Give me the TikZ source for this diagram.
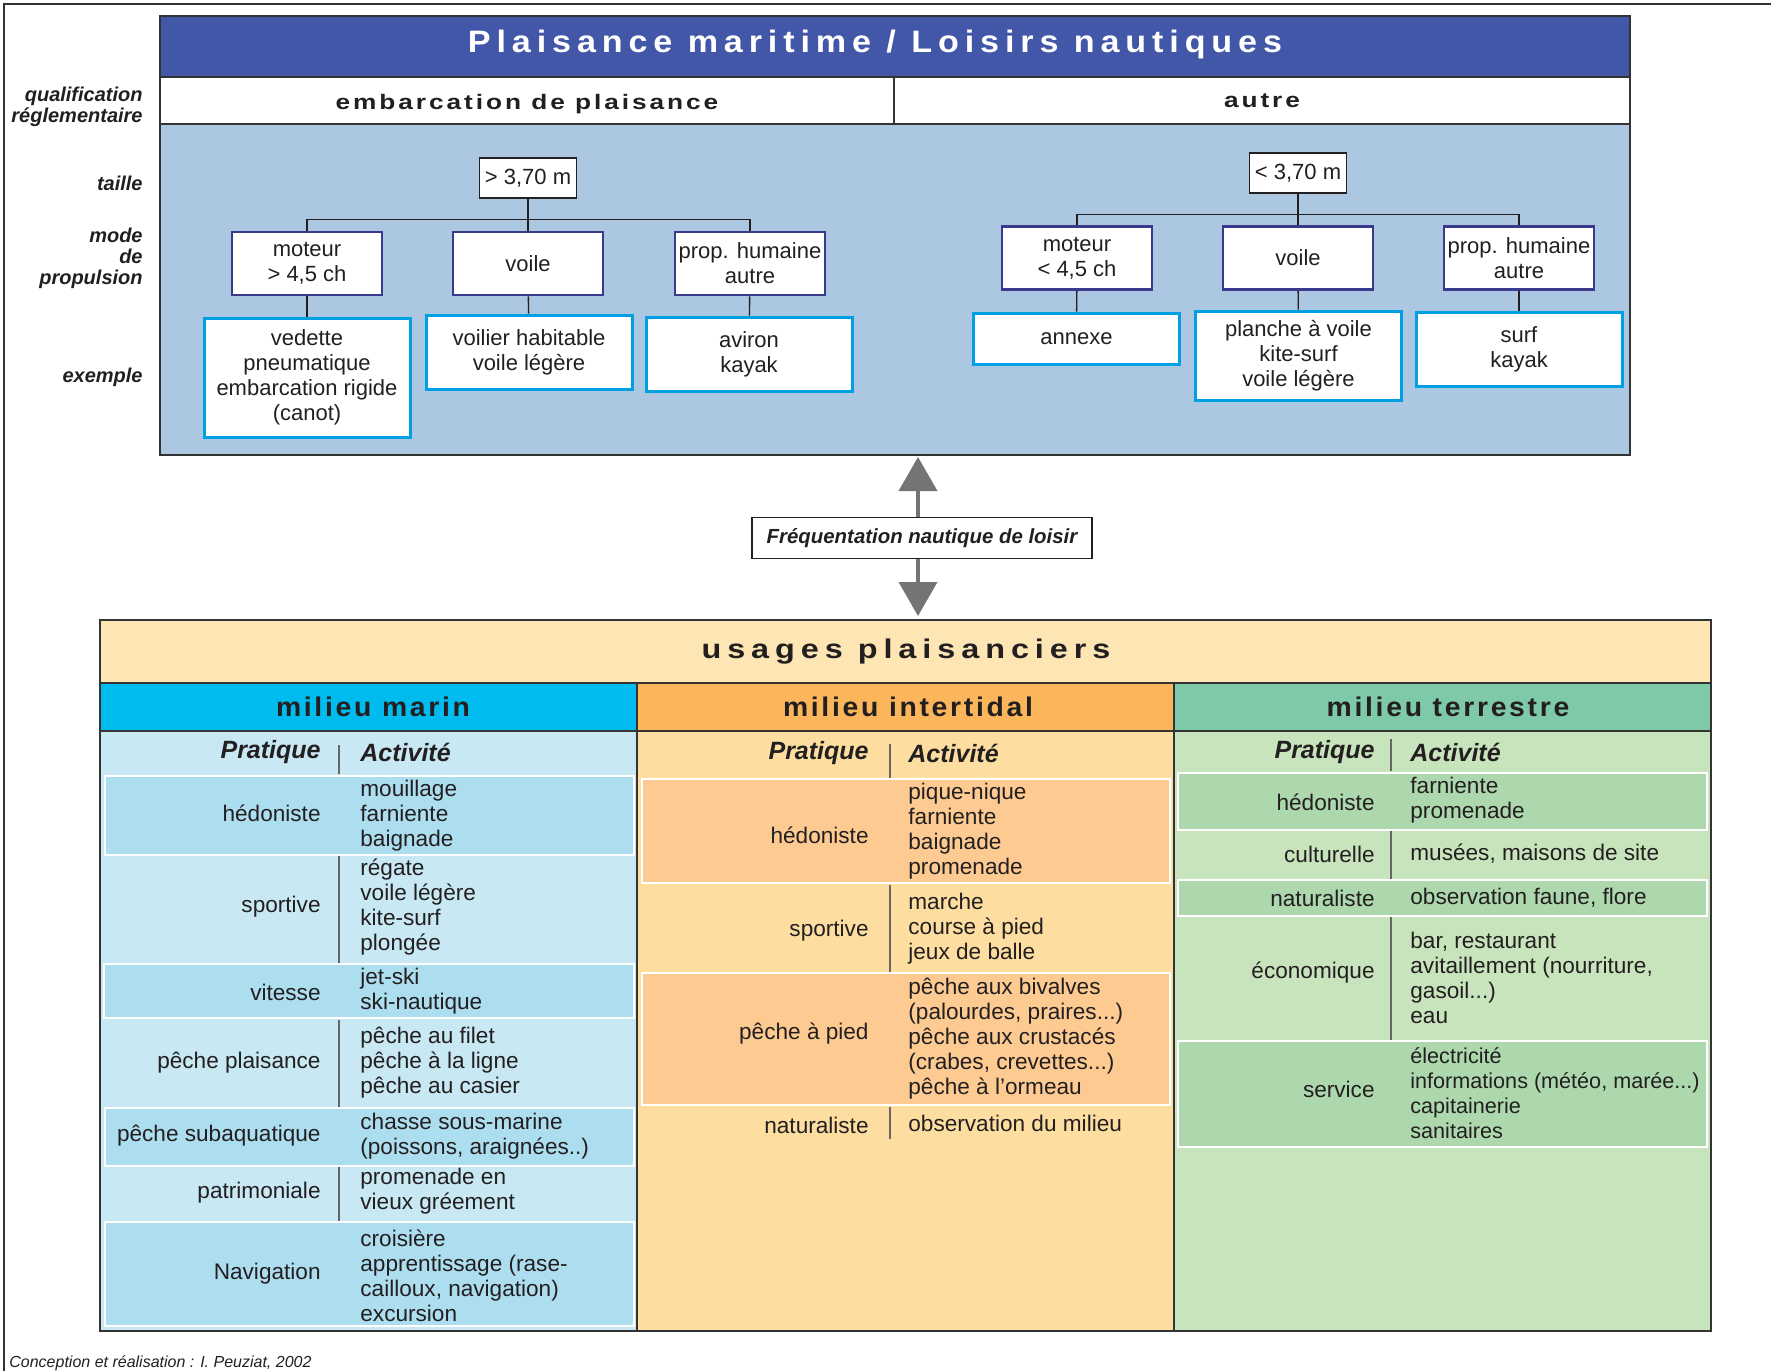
\documentclass[tikz,border=0pt]{standalone}
\usepackage{fontspec}
\setmainfont{Liberation Sans}
\usetikzlibrary{arrows.meta}
\definecolor{titleblue}{RGB}{66,87,167}
\definecolor{zoneblue}{RGB}{172,199,225}
\definecolor{modeblue}{RGB}{58,58,140}
\definecolor{excyan}{RGB}{0,160,227}
\definecolor{arrowgray}{RGB}{115,116,118}
\definecolor{usagesfill}{RGB}{254,230,180}
\definecolor{marinhead}{RGB}{0,187,238}
\definecolor{marinbody}{RGB}{200,232,243}
\definecolor{marinhl}{RGB}{173,222,239}
\definecolor{interhead}{RGB}{251,182,92}
\definecolor{interbody}{RGB}{253,222,160}
\definecolor{interhl}{RGB}{253,203,145}
\definecolor{terrehead}{RGB}{126,201,168}
\definecolor{terrebody}{RGB}{200,228,189}
\definecolor{terrehl}{RGB}{173,216,173}
\definecolor{inkgray}{RGB}{35,31,32}

\begin{document}
\begin{tikzpicture}[x=0.5pt, y=-0.5pt, text=inkgray,
    body/.style={font=\fontsize{11}{12.5}\selectfont, inner sep=0pt},
    cell/.style={font=\fontsize{11.3}{12.5}\selectfont, inner sep=0pt},
    pratique/.style={cell, anchor=east, align=right},
    activite/.style={cell, anchor=west, align=left},
    tabhead/.style={inner sep=0pt, font=\bfseries\itshape\fontsize{12.5}{14}\selectfont},
    colhead/.style={inner sep=0pt, font=\bfseries\fontsize{13.5}{15}\selectfont\addfontfeature{FakeStretch=1.05,LetterSpace=10}},
    rowhead/.style={inner sep=0pt, font=\bfseries\fontsize{10.5}{13}\selectfont\addfontfeature{FakeStretch=1.25,LetterSpace=14}},
    sidelabel/.style={anchor=east, align=right, inner sep=0pt, font=\bfseries\itshape\fontsize{10}{10.5}\selectfont},
    sizebox/.style={draw=inkgray, fill=white, line width=0.7pt, body, minimum width=48.5pt, minimum height=20pt},
    modebox/.style={draw=modeblue, fill=white, line width=1.4pt, body, inner sep=1pt, align=center, minimum width=75pt, minimum height=31.5pt},
    exbox/.style={draw=excyan, fill=white, line width=1.5pt, body, inner sep=1pt, align=center, minimum width=103pt},
    treeline/.style={draw=inkgray, line width=0.7pt},
    rowhl/.style={draw=white, line width=1pt},
    divider/.style={draw=black!60, line width=1pt},
    frame/.style={draw=black!80, line width=0.8pt},
    grayarrow/.style={draw=arrowgray, line width=2pt, -{Triangle[width=19pt,length=17pt]}},
  ]
  \useasboundingbox (0,0) rectangle (1771,1371);

  % outer frame
  \draw[frame] (4,1371) -- (4,4) -- (1771,4);

  % upper block
  \fill[titleblue] (160,16) rectangle (1630,77);
  \fill[white] (160,77) rectangle (1630,124);
  \fill[zoneblue] (160,124) rectangle (1630,455);
  \draw[frame] (160,16) rectangle (1630,455);
  \draw[frame] (160,77) -- (1630,77);
  \draw[frame] (160,124) -- (1630,124);
  \draw[frame] (894,77) -- (894,124);
  \coordinate (zonese) at (1630,455);

  \node[inner sep=0pt, text=white, font=\bfseries\fontsize{15.5}{18}\selectfont\addfontfeature{FakeStretch=1.1,LetterSpace=19}] (title) at (875,44) {Plaisance maritime / Loisirs nautiques};
  \node[rowhead] (embarc) at (527,104) {embarcation de plaisance};
  \node[rowhead] (autre) at (1262,101) {autre};

  % side labels
  \node[sidelabel] (lblqual) at (143,107) {qualification\\réglementaire};
  \node[sidelabel] (lbltaille) at (143,183) {taille};
  \node[sidelabel] (lblmode) at (143,258.5) {mode\\de\\propulsion};
  \node[sidelabel] (lblex) at (143,377) {exemple};

  % tree left
  \node[sizebox] (bigsize) at (528,178) {> 3,70 m};
  \node[modebox] (bigmot) at (307,263.5) {moteur\\> 4,5 ch};
  \node[modebox] (bigvoile) at (528,263.5) {voile};
  \node[modebox] (bighum) at (750,263.5) {prop. humaine\\autre};
  \node[exbox, minimum height=59.5pt] (bigexmot) at (307,377.5) {vedette\\pneumatique\\embarcation rigide\\(canot)};
  \node[exbox, minimum height=37pt] (bigexvoile) at (529,352) {voilier habitable\\voile légère};
  \node[exbox, minimum height=37pt] (bigexhum) at (749,354) {aviron\\kayak};
  \draw[treeline] (bigsize.south) -- ++(0,21) -| (bigmot.north);
  \draw[treeline] (bigsize.south) -- ++(0,21) -| (bighum.north);
  \draw[treeline] (bigsize) -- (bigvoile);
  \draw[treeline] (bigmot) -- (bigexmot);
  \draw[treeline] (bigvoile) -- (bigexvoile);
  \draw[treeline] (bighum) -- (bigexhum);

  % tree right
  \node[sizebox] (smallsize) at (1298,173) {< 3,70 m};
  \node[modebox] (smallmot) at (1077,258) {moteur\\< 4,5 ch};
  \node[modebox] (smallvoile) at (1298,258) {voile};
  \node[modebox] (smallhum) at (1519,258) {prop. humaine\\autre};
  \node[exbox, minimum height=25.5pt] (smallexmot) at (1076.5,338.5) {annexe};
  \node[exbox, minimum height=44.5pt] (smallexvoile) at (1298.5,355.5) {planche à voile\\kite-surf\\voile légère};
  \node[exbox, minimum height=37pt] (smallexhum) at (1519,349) {surf\\kayak};
  \draw[treeline] (smallsize.south) -- ++(0,21) -| (smallmot.north);
  \draw[treeline] (smallsize.south) -- ++(0,21) -| (smallhum.north);
  \draw[treeline] (smallsize) -- (smallvoile);
  \draw[treeline] (smallmot) -- (smallexmot);
  \draw[treeline] (smallvoile) -- (smallexvoile);
  \draw[treeline] (smallhum) -- (smallexhum);

  % link between blocks
  \coordinate (usagesnw) at (100,620);
  \node[draw=inkgray, fill=white, line width=0.7pt, minimum width=170pt, minimum height=20.5pt, inner sep=0pt,
        font=\bfseries\itshape\fontsize{10.2}{12}\selectfont] (freq) at (922,538) {Fréquentation nautique de loisir};
  \draw[grayarrow, shorten >=1pt] ([xshift=-2pt]freq.north) -- ([xshift=-2pt]freq.north |- zonese);
  \draw[grayarrow, shorten >=2pt] ([xshift=-2pt]freq.south) -- ([xshift=-2pt]freq.south |- usagesnw);

  % lower block
  \fill[usagesfill] (100,620) rectangle (1711,683);
  \fill[marinhead] (100,683) rectangle (637,731);
  \fill[interhead] (637,683) rectangle (1174,731);
  \fill[terrehead] (1174,683) rectangle (1711,731);
  \fill[marinbody] (100,731) rectangle (637,1331);
  \fill[interbody] (637,731) rectangle (1174,1331);
  \fill[terrebody] (1174,731) rectangle (1711,1331);

  % milieu marin rows
  \filldraw[rowhl, fill=marinhl] (105,776) rectangle (634,855);
  \filldraw[rowhl, fill=marinhl] (104,964) rectangle (634,1018);
  \filldraw[rowhl, fill=marinhl] (105,1108) rectangle (634,1166);
  \filldraw[rowhl, fill=marinhl] (105,1222) rectangle (634,1326);
  \draw[divider] (339,745) -- (339,774);
  \draw[divider] (339,856) -- (339,963);
  \draw[divider] (339,1020) -- (339,1107);
  \draw[divider] (339,1167) -- (339,1221);

  % milieu intertidal rows
  \filldraw[rowhl, fill=interhl] (642,779) rectangle (1170,883);
  \filldraw[rowhl, fill=interhl] (642,973) rectangle (1170,1105);
  \draw[divider] (890,744) -- (890,778);
  \draw[divider] (890,885) -- (890,972);
  \draw[divider] (890,1107) -- (890,1139);

  % milieu terrestre rows
  \filldraw[rowhl, fill=terrehl] (1178,773) rectangle (1707,830);
  \filldraw[rowhl, fill=terrehl] (1178,880) rectangle (1707,916);
  \filldraw[rowhl, fill=terrehl] (1178,1041) rectangle (1707,1147);
  \draw[divider] (1391,739) -- (1391,771);
  \draw[divider] (1391,831) -- (1391,879);
  \draw[divider] (1391,917) -- (1391,1040);

  % lines of the lower block
  \draw[frame] (usagesnw) rectangle (1711,1331);
  \draw[frame] (100,683) -- (1711,683);
  \draw[frame] (100,731) -- (1711,731);
  \draw[frame] (637,683) -- (637,1331);
  \draw[frame] (1174,683) -- (1174,1331);

  \node[inner sep=0pt, font=\bfseries\fontsize{13.5}{16}\selectfont\addfontfeature{FakeStretch=1.2,LetterSpace=22}] (usages) at (906,652) {usages plaisanciers};
  \node[colhead] (marin) at (373,707) {milieu marin};
  \node[colhead] (inter) at (908,707) {milieu intertidal};
  \node[colhead] (terre) at (1448,707) {milieu terrestre};

  % marin texts
  \node[tabhead, anchor=east] (marinprat) at (321,752) {Pratique};
  \node[tabhead, anchor=west] (marinact) at (360,752) {Activité};
  \node[pratique] (marinp1) at (321,813) {hédoniste};
  \node[activite] (marina1) at (360,815.5) {mouillage\\farniente\\baignade};
  \node[pratique] (marinp2) at (321,907) {sportive};
  \node[activite] (marina2) at (360,907) {régate\\voile légère\\kite-surf\\plongée};
  \node[pratique] (marinp3) at (321,992) {vitesse};
  \node[activite] (marina3) at (360,991) {jet-ski\\ski-nautique};
  \node[pratique] (marinp4) at (321,1063) {pêche plaisance};
  \node[activite] (marina4) at (360,1062.5) {pêche au filet\\pêche à la ligne\\pêche au casier};
  \node[pratique] (marinp5) at (321,1136) {pêche subaquatique};
  \node[activite] (marina5) at (360,1136.5) {chasse sous-marine\\(poissons, araignées..)};
  \node[pratique] (marinp6) at (321,1193) {patrimoniale};
  \node[activite] (marina6) at (360,1191.5) {promenade en\\vieux gréement};
  \node[pratique] (marinp7) at (321,1274) {Navigation};
  \node[activite] (marina7) at (360,1275.5) {croisière\\apprentissage (rase-\\cailloux, navigation)\\excursion};

  % intertidal texts
  \node[tabhead, anchor=east] (interprat) at (869,753) {Pratique};
  \node[tabhead, anchor=west] (interact) at (908,753) {Activité};
  \node[pratique] (interp1) at (869,835) {hédoniste};
  \node[activite] (intera1) at (908,831.5) {pique-nique\\farniente\\baignade\\promenade};
  \node[pratique] (interp2) at (869,931) {sportive};
  \node[activite] (intera2) at (908,929) {marche\\course à pied\\jeux de balle};
  \node[pratique] (interp3) at (869,1034) {pêche à pied};
  \node[activite] (intera3) at (908,1038.5) {pêche aux bivalves\\(palourdes, praires...)\\pêche aux crustacés\\(crabes, crevettes...)\\pêche à l'ormeau};
  \node[pratique] (interp4) at (869,1125) {naturaliste};
  \node[activite] (intera4) at (908,1123) {observation du milieu};

  % terrestre texts
  \node[tabhead, anchor=east] (terreprat) at (1375,752) {Pratique};
  \node[tabhead, anchor=west] (terreact) at (1410,752) {Activité};
  \node[pratique] (terrep1) at (1375,802) {hédoniste};
  \node[activite] (terrea1) at (1410,800.5) {farniente\\promenade};
  \node[pratique] (terrep2) at (1375,854) {culturelle};
  \node[activite] (terrea2) at (1410,854) {musées, maisons de site};
  \node[pratique] (terrep3) at (1375,898) {naturaliste};
  \node[activite] (terrea3) at (1410,898) {observation faune, flore};
  \node[pratique] (terrep4) at (1375,973) {économique};
  \node[activite] (terrea4) at (1410,977.5) {bar, restaurant\\avitaillement (nourriture,\\gasoil...)\\eau};
  \node[pratique] (terrep5) at (1375,1089) {service};
  \node[activite, font=\fontsize{10.8}{12.5}\selectfont] (terrea5) at (1410,1093.5) {électricité\\informations (météo, marée...)\\capitainerie\\sanitaires};

  % credit
  \node[anchor=west, inner sep=0pt, font=\itshape\fontsize{8}{9}\selectfont] (credit) at (9,1363) {Conception et réalisation : I. Peuziat, 2002};
\end{tikzpicture}
\end{document}
